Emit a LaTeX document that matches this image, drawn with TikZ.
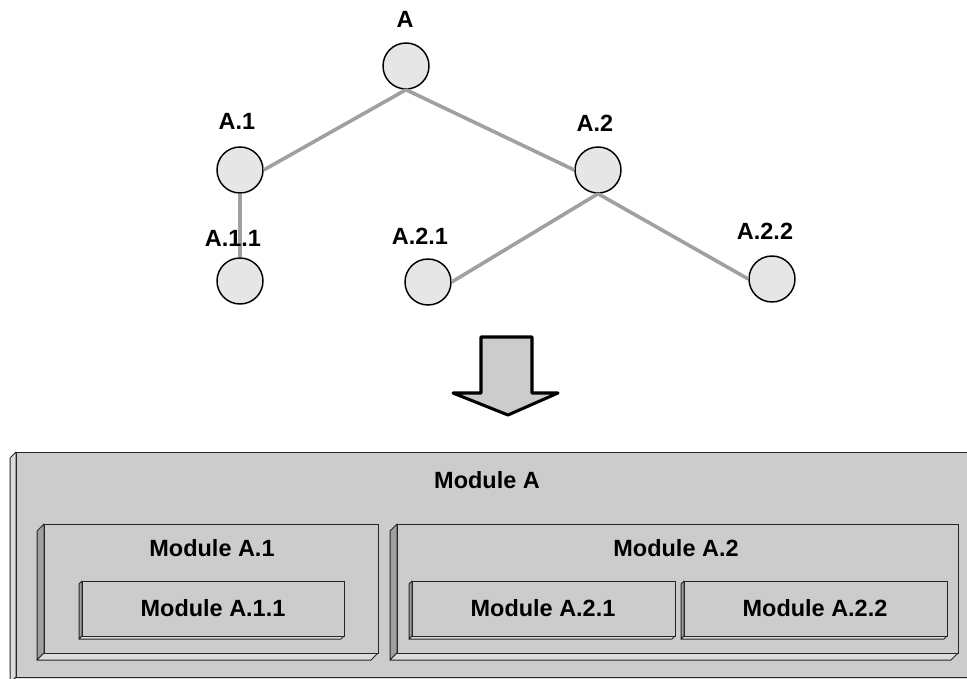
\documentclass[tikz,border=0pt]{standalone}
\usepackage{fontspec}
\setmainfont{Liberation Sans}
\usetikzlibrary{calc}

\definecolor{facegray}{HTML}{CCCCCC}
\definecolor{darkside}{HTML}{A0A0A0}
\definecolor{lightside}{HTML}{DCDCDC}
\definecolor{leafgray}{HTML}{E6E6E6}
\definecolor{edgegray}{HTML}{A0A0A0}

% box with a bevel to the lower left: x1, y1, x2, y2, depth, left side colour
\newcommand{\modbox}[6]{%
	\filldraw[sideleft, fill=#6] (#1,#2) -- (#1,#4) -- ++(-#5,#5) -- (#1-#5,#2+#5) -- cycle;
	\filldraw[sidebottom] (#1,#4) -- (#3,#4) -- ++(-#5,#5) -- (#1-#5,#4+#5) -- cycle;
	\filldraw[modface] (#1,#2) rectangle (#3,#4);
}

\begin{document}
\begin{tikzpicture}[x=0.75pt, y=-0.75pt,
		leaf/.style={circle, draw, fill=leafgray, line width=1.1pt, minimum size=34.5pt, inner sep=0pt},
		lbl/.style={font=\fontsize{17.6}{20}\selectfont\bfseries, inner sep=0pt},
		edge/.style={edgegray, line width=2.7pt},
		modface/.style={fill=facegray, draw=black!85, line width=0.75pt},
		sideleft/.style={draw=black!85, line width=0.75pt, line join=round},
		sidebottom/.style={fill=lightside, draw=black!85, line width=0.75pt, line join=round},
		bigarrow/.style={fill=facegray, draw=black, line width=2.3pt, line join=round}]
		\useasboundingbox (0,0) rectangle (967,678);
		\clip (0,0) rectangle (967,678);

		% the tree
		\node [leaf] (A) at (406,66) {};
		\node [leaf] (A1) at (240,170) {};
		\node [leaf] (A2) at (598,170) {};
		\node [leaf] (A11) at (240,281) {};
		\node [leaf] (A21) at (428,282) {};
		\node [leaf] (A22) at (772,279) {};

		\draw [edge] (A.south) -- (A1.east);
		\draw [edge] (A.south) -- (A2.west);
		\draw [edge] (A1.south) -- (A11.north);
		\draw [edge] (A2.south) -- (A21.east);
		\draw [edge] (A2.south) -- (A22.west);

		\node [lbl] (lA) at (405,19) {A};
		\node [lbl] (lA1) at (237,121) {A.1};
		\node [lbl] (lA2) at (595,123) {A.2};
		\node [lbl] (lA11) at (233,238) {A.1.1};
		\node [lbl] (lA21) at (420,236) {A.2.1};
		\node [lbl] (lA22) at (765,231) {A.2.2};

		% arrow down to the modules
		\draw [bigarrow] (481,337) -- (532,337) -- (532,393) -- (558,393) -- (508,415)
			-- (453,393) -- (481,393) -- cycle;

		% the modules
		\modbox{16}{452}{985}{677}{6}{lightside}
		\modbox{44}{524}{378}{653}{7}{darkside}
		\modbox{397}{524}{958}{653}{7}{darkside}
		\modbox{82}{581}{344}{636}{3}{darkside}
		\modbox{412}{581}{675}{636}{3}{darkside}
		\modbox{684}{581}{947}{636}{3}{darkside}

		\node [lbl] (mA) at (487,480) {Module A};
		\node [lbl] (mA1) at (212,548) {Module A.1};
		\node [lbl] (mA2) at (676,548) {Module A.2};
		\node [lbl] (mA11) at (213,608) {Module A.1.1};
		\node [lbl] (mA21) at (543,608) {Module A.2.1};
		\node [lbl] (mA22) at (815,608) {Module A.2.2};
	\end{tikzpicture}
\end{document}
